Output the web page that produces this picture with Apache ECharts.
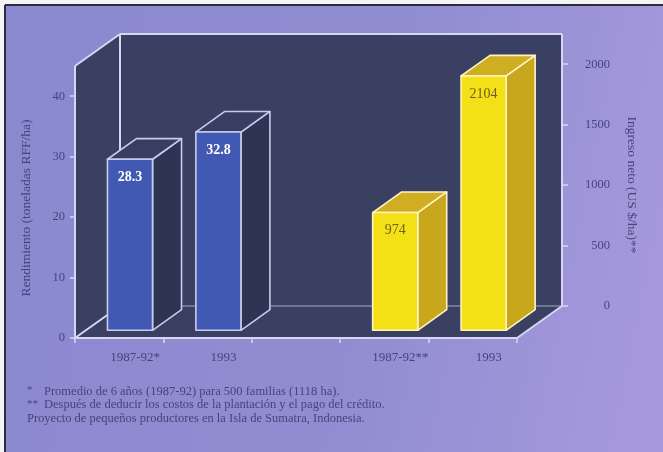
<!DOCTYPE html>
<html>
<head>
<meta charset="utf-8">
<script src="https://cdn.jsdelivr.net/npm/echarts@6/dist/echarts.min.js"></script>
<style>
  html, body { margin: 0; padding: 0; background: #f4f4f6; }
  #chart { width: 663px; height: 452px; }
</style>
</head>
<body>
<div id="chart"></div>
<script>
// Categories along the floor; the middle slot is an empty gap between the two groups.
const categories = ['1987-92*', '1993', '', '1987-92**', '1993'];
// Yield, tonnes FFB per hectare (left axis)
const yieldValues = [28.3, 32.8, null, null, null];
// Net income, US$ per hectare (right axis)
const incomeValues = [null, null, null, 974, 2104];
// Tick labels
const yieldTicks = [0, 10, 20, 30, 40];
const incomeTicks = [0, 500, 1000, 1500, 2000];

const footnotes = [
  ['*', 'Promedio de 6 años (1987-92) para 500 familias (1118 ha).'],
  ['**', 'Después de deducir los costos de la plantación y el pago del crédito.'],
  ['', 'Proyecto de pequeños productores en la Isla de Sumatra, Indonesia.']
];

// Box geometry: the front plane holds the left axis, the back plane the right axis.
const FRONT = { left: 75, top: 66, width: 442, height: 272 };
const DEPTH = [45, -32];
const BACK = {
  left: FRONT.left + DEPTH[0], top: FRONT.top + DEPTH[1],
  width: FRONT.width, height: FRONT.height
};
const YIELD_MAX = 45;
const INCOME_MAX = 2250;

const WALL = '#3a4062';
const EDGE = '#d6d6f2';
const TEXT = '#45457a';
const SERIF = '"Liberation Serif", "DejaVu Serif", serif';

function toData(values) {
  const out = [];
  values.forEach((v, i) => { if (v != null) out.push([i, v]); });
  return out;
}

// Draws the left wall, back wall and floor of the 3-D box from the grid rectangle.
function renderFrame(params, api) {
  const cs = params.coordSys;
  const x = cs.x, y = cs.y, w = cs.width, h = cs.height;
  const dx = DEPTH[0], dy = DEPTH[1];
  const edge = { stroke: EDGE, lineWidth: 2, fill: null };
  const line = (x1, y1, x2, y2, opacity) => ({
    type: 'line', shape: { x1, y1, x2, y2 },
    style: Object.assign({}, edge, { opacity: opacity == null ? 1 : opacity })
  });
  return {
    type: 'group',
    children: [
      { type: 'polygon', shape: { points: [[x, y], [x + dx, y + dy], [x + dx, y + h + dy], [x, y + h]] },
        style: { fill: WALL } },
      { type: 'rect', shape: { x: x + dx, y: y + dy, width: w, height: h }, style: { fill: WALL } },
      { type: 'polygon', shape: { points: [[x, y + h], [x + w, y + h], [x + w + dx, y + h + dy], [x + dx, y + h + dy]] },
        style: { fill: WALL } },
      line(x + dx, y + h + dy, x + w + dx, y + h + dy, 0.35),
      line(x + dx, y + dy, x + dx, y + h + dy),
      line(x + dx, y + dy, x + w + dx, y + dy),
      line(x + w + dx, y + dy, x + w + dx, y + h + dy),
      line(x, y, x + dx, y + dy),
      line(x, y, x, y + h),
      line(x, y + h, x + w, y + h),
      line(x, y + h, x + dx, y + h + dy),
      line(x + w, y + h, x + w + dx, y + h + dy)
    ]
  };
}

// 3-D bar: front face, right side and top, with the value written on the front.
function barRenderer(colors) {
  return function (params, api) {
    const idx = api.value(0);
    const v = api.value(1);
    const base = api.coord([idx, 0]);
    const top = api.coord([idx, v]);
    const band = api.size([1, 0])[0];
    const fw = band * 0.51;
    const f0 = 0.24, f1 = 0.884;
    const ox = DEPTH[0] * f0, oy = DEPTH[1] * f0;
    const bx = DEPTH[0] * (f1 - f0), by = DEPTH[1] * (f1 - f0);
    const l = base[0] - fw / 2 + ox, r = l + fw;
    const b = base[1] + oy, t = top[1] + oy;
    const edge = { stroke: colors.edge, lineWidth: 1.6, lineJoin: 'round' };
    return {
      type: 'group',
      children: [
        { type: 'polygon', shape: { points: [[r, b], [r + bx, b + by], [r + bx, t + by], [r, t]] },
          style: Object.assign({ fill: colors.side }, edge) },
        { type: 'polygon', shape: { points: [[l, t], [r, t], [r + bx, t + by], [l + bx, t + by]] },
          style: Object.assign({ fill: colors.top }, edge) },
        { type: 'rect', shape: { x: l, y: t, width: fw, height: b - t },
          style: Object.assign({ fill: colors.front }, edge) },
        { type: 'text', x: l + fw / 2, y: t + 18,
          style: { text: String(v), fill: colors.label, font: colors.font,
                   align: 'center', verticalAlign: 'middle' } }
      ]
    };
  };
}

const chart = echarts.init(document.getElementById('chart'), null, { renderer: 'canvas' });

chart.setOption({
  animation: false,
  backgroundColor: 'transparent',
  graphic: [
    { type: 'rect', z: -10, shape: { x: 5, y: 5, width: 670, height: 460 },
      style: { fill: new echarts.graphic.LinearGradient(0, 0, 1, 0.3, [
        { offset: 0, color: '#8a88cf' }, { offset: 0.6, color: '#918dd3' }, { offset: 1, color: '#a498da' }
      ]) } },
    { type: 'line', z: -9, shape: { x1: 5, y1: 5, x2: 663, y2: 5 }, style: { stroke: '#2b2b3c', lineWidth: 2 } },
    { type: 'line', z: -9, shape: { x1: 5, y1: 5, x2: 5, y2: 452 }, style: { stroke: '#2b2b3c', lineWidth: 2 } }
  ].concat(footnotes.flatMap((f, i) => [
    { type: 'text', left: 27, top: 385 + i * 13.5,
      style: { text: f[0], fill: TEXT, font: '11px ' + SERIF } },
    { type: 'text', left: f[0] ? 44 : 27, top: 385 + i * 13.5,
      style: { text: f[1], fill: TEXT, font: '12.5px ' + SERIF } }
  ])),
  grid: [
    Object.assign({ containLabel: false }, FRONT),
    Object.assign({ containLabel: false }, BACK)
  ],
  xAxis: [
    { gridIndex: 0, type: 'category', data: categories,
      axisLine: { show: false },
      axisTick: { show: true, length: 5, lineStyle: { color: EDGE, width: 1.5 } },
      axisLabel: { color: TEXT, fontFamily: SERIF, fontSize: 13, margin: 13, padding: [0, 0, 0, 32] } },
    { gridIndex: 1, type: 'category', data: categories, show: false }
  ],
  yAxis: [
    { gridIndex: 0, type: 'value', min: 0, max: YIELD_MAX,
      axisLine: { show: false }, splitLine: { show: false },
      axisTick: { show: true, length: 5, customValues: yieldTicks, lineStyle: { color: EDGE, width: 1.5 } },
      axisLabel: { customValues: yieldTicks, color: TEXT, fontFamily: SERIF, fontSize: 12.5, margin: 10,
                   formatter: v => String(v) },
      name: 'Rendimiento (toneladas RFF/ha)', nameLocation: 'middle', nameRotate: 90, nameGap: 42,
      nameTextStyle: { color: TEXT, fontFamily: SERIF, fontSize: 13.5, padding: [0, 12, 0, 0] } },
    { gridIndex: 0, type: 'value', min: 0, max: INCOME_MAX, show: false },
    { gridIndex: 1, type: 'value', position: 'right', min: 0, max: INCOME_MAX,
      axisLine: { show: false }, splitLine: { show: false },
      axisTick: { show: true, length: 6, customValues: incomeTicks, lineStyle: { color: EDGE, width: 1.5 } },
      axisLabel: { customValues: incomeTicks, color: TEXT, fontFamily: SERIF, fontSize: 12.5, margin: 48,
                   align: 'right', formatter: v => String(v) },
      name: 'Ingreso neto (US $/ha)**', nameLocation: 'middle', nameRotate: -90, nameGap: 63,
      nameTextStyle: { color: TEXT, fontFamily: SERIF, fontSize: 13.5, padding: [0, 0, 0, 30] } }
  ],
  series: [
    { type: 'custom', name: 'frame', xAxisIndex: 0, yAxisIndex: 0, z: 1, silent: true,
      renderItem: renderFrame, data: [[0, 0]] },
    { type: 'custom', name: 'Rendimiento', xAxisIndex: 0, yAxisIndex: 0, z: 3,
      renderItem: barRenderer({ front: '#4259b4', side: '#2f3452', top: '#383e62', edge: '#c9caee',
                                label: '#ffffff', font: 'bold 14px ' + SERIF }),
      data: toData(yieldValues) },
    { type: 'custom', name: 'Ingreso neto', xAxisIndex: 0, yAxisIndex: 1, z: 3,
      renderItem: barRenderer({ front: '#f4e017', side: '#c9a71c', top: '#d0ae22', edge: '#fff3c4',
                                label: '#6e5f1c', font: '14px ' + SERIF }),
      data: toData(incomeValues) }
  ]
});
</script>
</body>
</html>
